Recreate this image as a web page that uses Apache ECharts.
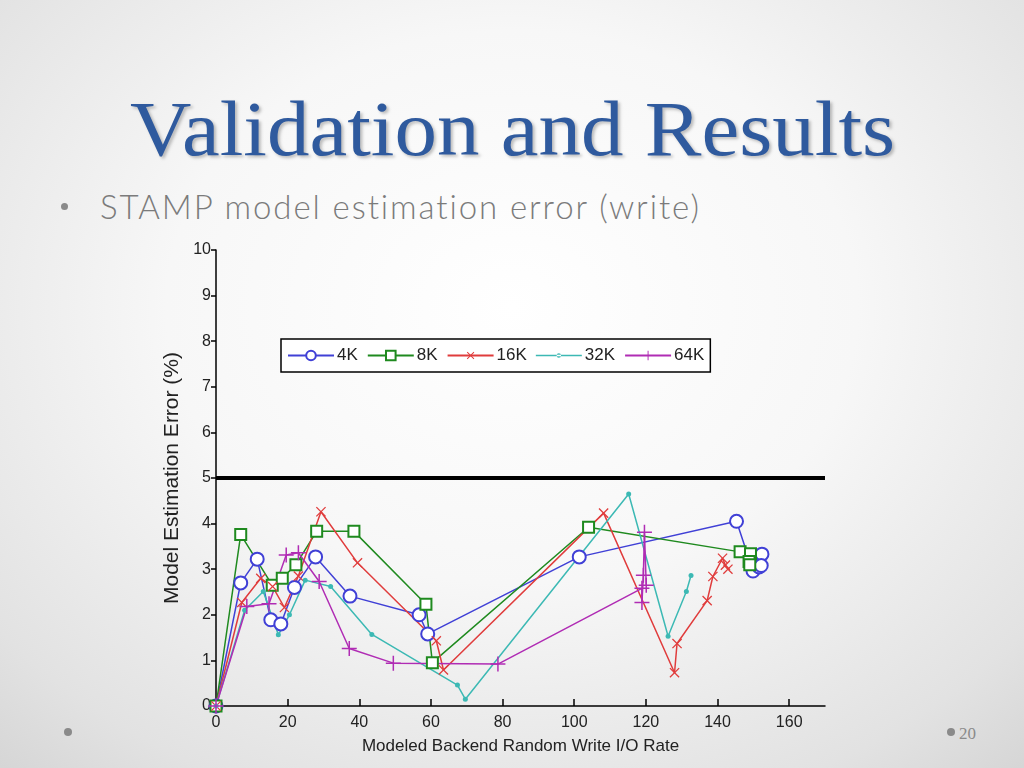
<!DOCTYPE html>
<html>
<head>
<meta charset="utf-8">
<script src="https://cdn.jsdelivr.net/npm/echarts@6/dist/echarts.min.js"></script>
<style>
  html, body { margin:0; padding:0; width:1024px; height:768px; overflow:hidden; }
  body {
    background: radial-gradient(ellipse 75% 80% at 50% 40%, #ffffff 0%, #f7f7f7 45%, #e2e2e2 85%, #d6d6d6 100%);
    position: relative;
  }
  #title {
    position:absolute; left:130px; top:84px; white-space:nowrap;
    font-family:"Liberation Serif", "DejaVu Serif", serif; font-size:78px; color:#2f5a9e;
    text-shadow: 2px 2px 3px rgba(0,0,0,0.25); line-height:90px;
    transform: scaleX(1.09); transform-origin: 0 0;
  }
  #sub {
    position:absolute; left:100px; top:186px; font-family:"Lato","Open Sans",sans-serif; font-weight:300;
    font-size:33px; color:#7b7b7b; line-height:40px; letter-spacing:1.9px; white-space:nowrap;
    font-variant-ligatures: none;
  }
  .dot { position:absolute; width:8px; height:8px; border-radius:50%; background:#8a8a8a; }
  #pg { position:absolute; left:959px; top:724px; font-family:"Liberation Serif",serif; font-size:17px; color:#8a8a8a; }
  #chart { position:absolute; left:0; top:0; width:1024px; height:768px; }
</style>
</head>
<body>
<div id="title">Validation and Results</div>
<div class="dot" style="left:61px; top:203px; width:7px; height:7px;"></div>
<div id="sub">STAMP model estimation error (write)</div>
<div class="dot" style="left:64px; top:728px;"></div>
<div class="dot" style="left:947px; top:728px;"></div>
<div id="pg">20</div>
<div id="chart"></div>
<script>
const seriesNames = ['4K', '8K', '16K', '32K', '64K'];
const xTicks = [0, 20, 40, 60, 80, 100, 120, 140, 160];

const x4k = [0, 6.9, 11.5, 15.3, 18.1, 21.9, 27.8, 37.4, 56.7, 59.1, 101.4, 145.3, 149.9, 151.6, 152.4, 152.2];
const y4k = [0, 2.70, 3.22, 1.89, 1.80, 2.60, 3.27, 2.41, 2.00, 1.58, 3.27, 4.05, 2.96, 3.05, 3.33, 3.08];

const x8k = [0, 6.9, 15.7, 18.5, 22.3, 28.1, 38.5, 58.6, 60.4, 104.0, 146.3, 149.2, 148.8, 149.0];
const y8k = [0, 3.76, 2.65, 2.80, 3.10, 3.83, 3.83, 2.23, 0.95, 3.92, 3.38, 3.34, 3.17, 3.10];

const x16k = [0, 7.2, 12.5, 15.8, 19.1, 23.0, 29.3, 39.5, 61.5, 63.5, 108.2, 128.0, 128.7, 137.1, 138.7, 141.4, 142.2, 142.9];
const y16k = [0, 2.27, 2.80, 2.62, 2.16, 2.85, 4.26, 3.14, 1.43, 0.79, 4.23, 0.73, 1.37, 2.31, 2.84, 3.24, 3.09, 3.00];

const x32k = [0, 8.0, 13.2, 17.4, 20.5, 24.9, 32.0, 43.5, 67.4, 69.6, 115.2, 126.2, 131.3, 132.6];
const y32k = [0, 2.10, 2.51, 1.56, 2.00, 2.76, 2.62, 1.57, 0.46, 0.15, 4.65, 1.53, 2.51, 2.86];

const x64k = [0, 8.6, 14.8, 19.6, 23.0, 28.8, 37.2, 49.5, 78.7, 118.9, 118.9, 119.3, 119.6, 120.1];
const y64k = [0, 2.18, 2.24, 3.31, 3.36, 2.73, 1.26, 0.94, 0.92, 2.58, 2.27, 2.87, 3.81, 2.65];

const thresholdX = [0, 170];
const thresholdY = [5, 5];

function zip(xs, ys) { return xs.map((x, i) => [x, ys[i]]); }

const plusPath = 'path://M9,0H11V20H9Z M0,9H20V11H0Z';
const dotLegendIcon = 'path://M0,0L0,0Z M0,12L0,12Z M46,0L46,0Z M0,5.25H46V6.75H0Z M20.8,6A2.2,2.2 0 1,0 25.2,6A2.2,2.2 0 1,0 20.8,6Z';

const chart = echarts.init(document.getElementById('chart'), null, { renderer: 'canvas' });
const lineW = 1.5;
const defs = [
  { name: '4K', xs: x4k, ys: y4k, color: '#4040d6', symbol: 'emptyCircle', size: 13, rot: 0, bw: 1.0 },
  { name: '8K', xs: x8k, ys: y8k, color: '#1f8a1f', symbol: 'emptyRect', size: 11, rot: 0, bw: 1.3 },
  { name: '16K', xs: x16k, ys: y16k, color: '#e03c3c', symbol: plusPath, size: 13, rot: 45, bw: 0 },
  { name: '32K', xs: x32k, ys: y32k, color: '#3cb9b4', symbol: 'circle', size: 5, rot: 0, bw: 0 },
  { name: '64K', xs: x64k, ys: y64k, color: '#b02cb4', symbol: plusPath, size: 15, rot: 0, bw: 0 }
];

const series = defs.map(d => ({
  name: d.name, type: 'line', data: zip(d.xs, d.ys),
  symbol: d.symbol, symbolSize: d.size, symbolRotate: d.rot, showAllSymbol: true,
  lineStyle: { color: d.color, width: lineW },
  itemStyle: { color: d.color, borderColor: d.color, borderWidth: d.bw },
  emphasis: { disabled: true }, animation: false
}));
series.push({
  name: 'threshold', type: 'line', data: zip(thresholdX, thresholdY), symbol: 'none',
  lineStyle: { color: '#000', width: 4 }, animation: false, z: 1
});

const sans = "'Liberation Sans', Arial, sans-serif";

chart.setOption({
  backgroundColor: 'transparent',
  animation: false,
  grid: { left: 216, right: 199, top: 250, bottom: 62, containLabel: false },
  legend: {
    data: seriesNames.map(n => (n === '32K' ? { name: n, icon: dotLegendIcon } : { name: n })),
    left: 281, top: 339,
    backgroundColor: '#fff', borderColor: '#000', borderWidth: 1.5,
    padding: [8, 6, 8, 6], itemGap: 9, itemWidth: 46, itemHeight: 12,
    textStyle: { fontFamily: sans, fontSize: 17, color: '#222', padding: [0, 0, 0, -2] }
  },
  xAxis: {
    type: 'value', min: 0, max: 170, interval: 20,
    name: 'Modeled Backend Random Write I/O Rate', nameLocation: 'middle', nameGap: 32,
    nameTextStyle: { fontFamily: sans, fontSize: 17, color: '#222' },
    axisLine: { lineStyle: { color: '#000', width: 1.5 } },
    axisTick: { inside: true, length: 7, lineStyle: { color: '#000', width: 1.5 } },
    axisLabel: { showMaxLabel: false, fontFamily: sans, fontSize: 16, color: '#222', margin: 9,
      formatter: v => (xTicks.indexOf(v) >= 0 ? String(v) : '') },
    splitLine: { show: false }
  },
  yAxis: {
    type: 'value', min: 0, max: 10, interval: 1,
    name: 'Model Estimation Error (%)', nameLocation: 'middle', nameGap: 16, nameRotate: 90,
    nameTextStyle: { fontFamily: sans, fontSize: 21, color: '#222' },
    axisLine: { show: true, lineStyle: { color: '#000', width: 1.5 } },
    axisTick: { show: true, inside: false, length: 5, lineStyle: { color: '#000', width: 1.5 } },
    axisLabel: { fontFamily: sans, fontSize: 16, color: '#222', margin: 5 },
    splitLine: { show: false }
  },
  series: series
});
</script>
</body>
</html>
